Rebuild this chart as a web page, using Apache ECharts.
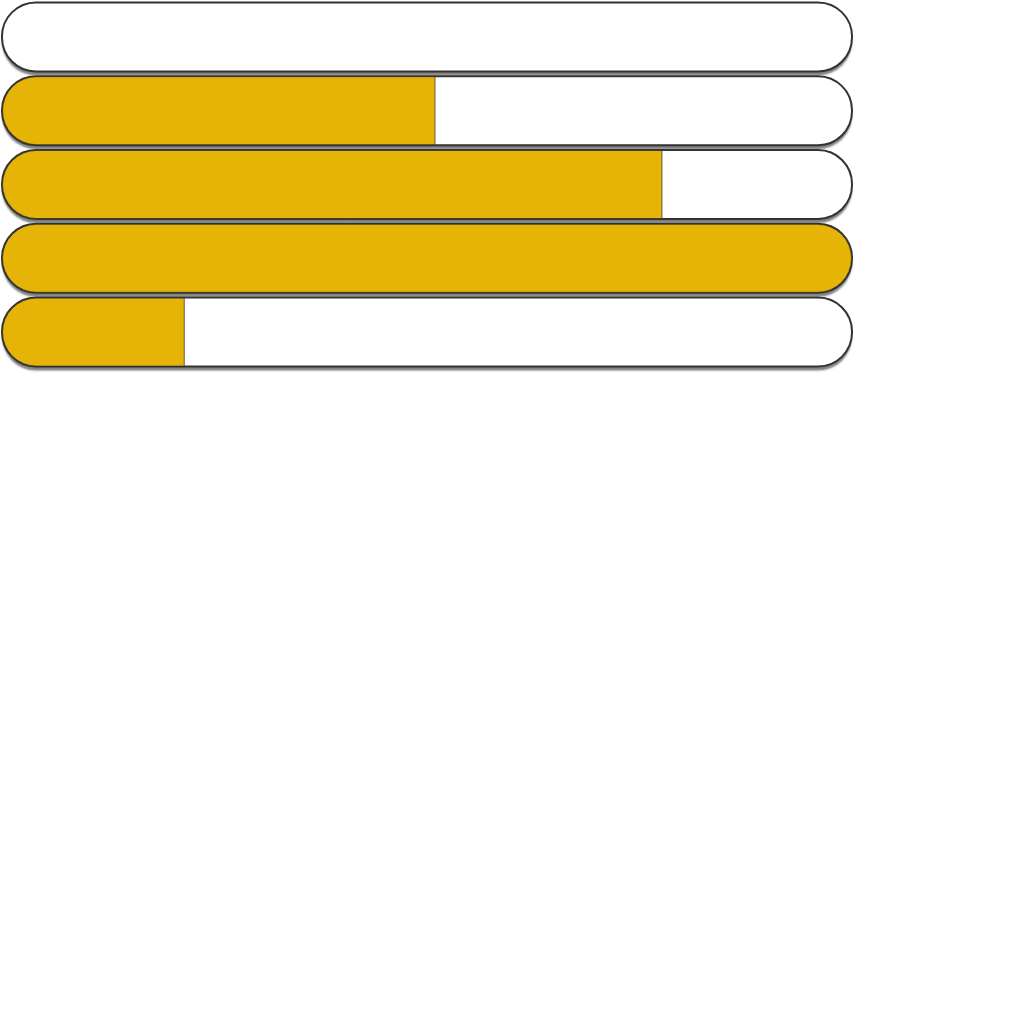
<!DOCTYPE html>
<html>
<head>
<meta charset="utf-8">
<script src="https://cdn.jsdelivr.net/npm/echarts@6/dist/echarts.min.js"></script>
<style>html,body{margin:0;padding:0;background:#fff}#main{width:1024px;height:1024px}</style>
</head>
<body>
<div id="main"></div>
<script>
var categories = ['A', 'B', 'C', 'D', 'E'];
var values = [0, 51, 77.7, 100, 21.5];
var axisMax = 100;

var chart = echarts.init(document.getElementById('main'));
var R = 34;
chart.setOption({
  animation: false,
  grid: { left: 2, top: 0, width: 850, height: 369 },
  xAxis: { type: 'value', min: 0, max: axisMax, show: false },
  yAxis: { type: 'category', data: categories, inverse: true, show: false },
  series: [{
    type: 'bar',
    z: 1,
    barCategoryGap: '6.5%',
    barGap: '-100%',
    silent: true,
    data: categories.map(function () { return axisMax; }),
    itemStyle: {
      color: '#ffffff',
      borderRadius: R,
      shadowColor: 'rgba(0,0,0,0.5)',
      shadowOffsetY: 4,
      shadowBlur: 2
    }
  }, {
    type: 'bar',
    z: 3,
    barCategoryGap: '6.5%',
    barGap: '-100%',
    showBackground: true,
    backgroundStyle: {
      color: '#ffffff',
      borderColor: '#333333',
      borderWidth: 2,
      borderRadius: R
    },
    data: values.map(function (v) {
      return {
        value: v,
        itemStyle: {
          borderRadius: v >= axisMax ? R : [R, 0, 0, R],
          borderWidth: v > 0 ? 1 : 0
        }
      };
    }),
    itemStyle: {
      color: '#E5B406',
      borderColor: 'rgba(40,40,40,0.7)'
    }
  }]
});
</script>
</body>
</html>
